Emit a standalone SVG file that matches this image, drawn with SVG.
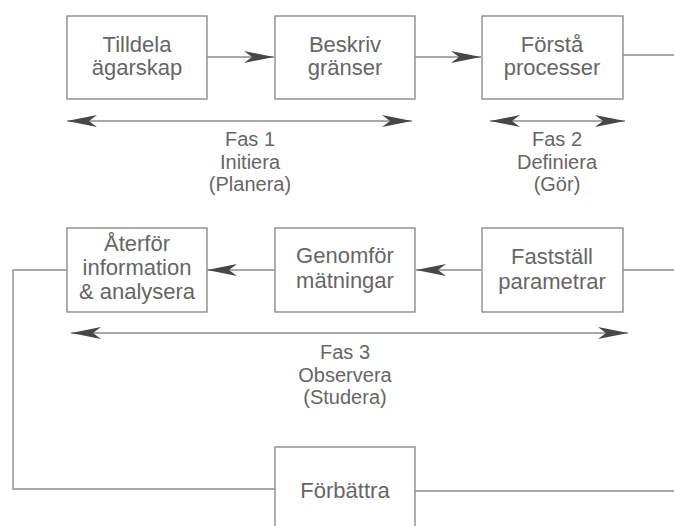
<svg xmlns="http://www.w3.org/2000/svg" width="674" height="526" viewBox="0 0 674 526">
<style>
.box{fill:#fff;stroke:#8c8c8c;stroke-width:1.4}
.ln{fill:none;stroke:#8c8c8c;stroke-width:1.4}
text{font-family:"Liberation Sans",Arial,sans-serif;font-size:22px;fill:#666;text-anchor:middle}
.ph text{font-size:20px}
</style>
<defs>
<marker id="ah" markerUnits="userSpaceOnUse" markerWidth="32" markerHeight="14" refX="30" refY="7" orient="auto-start-reverse" viewBox="0 0 32 14">
<path d="M0,1 L30,7 L0,13 L8,7 Z" fill="#474747"/>
</marker>
</defs>
<rect width="674" height="526" fill="#fff"/>
<g id="connectors">
<line class="ln" x1="207" y1="57" x2="274" y2="57" marker-end="url(#ah)"/>
<line class="ln" x1="415" y1="57" x2="481" y2="57" marker-end="url(#ah)"/>
<line class="ln" x1="623" y1="55" x2="674" y2="55"/>
<line class="ln" x1="67" y1="121" x2="412" y2="121" marker-start="url(#ah)" marker-end="url(#ah)"/>
<line class="ln" x1="490" y1="121" x2="625" y2="121" marker-start="url(#ah)" marker-end="url(#ah)"/>
<line class="ln" x1="481" y1="270" x2="416" y2="270" marker-end="url(#ah)"/>
<line class="ln" x1="275" y1="270" x2="207" y2="270" marker-end="url(#ah)"/>
<line class="ln" x1="623" y1="270" x2="674" y2="270"/>
<line class="ln" x1="71" y1="333" x2="628" y2="333" marker-start="url(#ah)" marker-end="url(#ah)"/>
<polyline class="ln" points="67,270 13,270 13,489 275,489"/>
<line class="ln" x1="415" y1="491" x2="674" y2="491"/>
</g>
<g id="n1"><rect class="box" x="67" y="16" width="140" height="83"/><text x="137" y="52">Tilldela</text><text x="137" y="75">ägarskap</text></g>
<g id="n2"><rect class="box" x="275" y="16" width="140" height="83"/><text x="345" y="52">Beskriv</text><text x="345" y="75">gränser</text></g>
<g id="n3"><rect class="box" x="482" y="16" width="141" height="83"/><text x="552" y="52">Förstå</text><text x="552" y="75">processer</text></g>
<g id="n4"><rect class="box" x="67" y="228" width="140" height="84"/><text x="137" y="251">Återför</text><text x="137" y="275">information</text><text x="137" y="299">&amp; analysera</text></g>
<g id="n5"><rect class="box" x="275" y="228" width="140" height="84"/><text x="345" y="263">Genomför</text><text x="345" y="288">mätningar</text></g>
<g id="n6"><rect class="box" x="482" y="228" width="141" height="84"/><text x="552" y="264">Fastställ</text><text x="552" y="289">parametrar</text></g>
<g id="n7"><rect class="box" x="275" y="447" width="140" height="90"/><text x="345" y="498">Förbättra</text></g>
<g id="fas1" class="ph"><text x="250" y="146">Fas 1</text><text x="250" y="168.5">Initiera</text><text x="250" y="191">(Planera)</text></g>
<g id="fas2" class="ph"><text x="557" y="146">Fas 2</text><text x="557" y="168.5">Definiera</text><text x="557" y="191">(Gör)</text></g>
<g id="fas3" class="ph"><text x="345" y="359">Fas 3</text><text x="345" y="381.5">Observera</text><text x="345" y="404">(Studera)</text></g>
</svg>
